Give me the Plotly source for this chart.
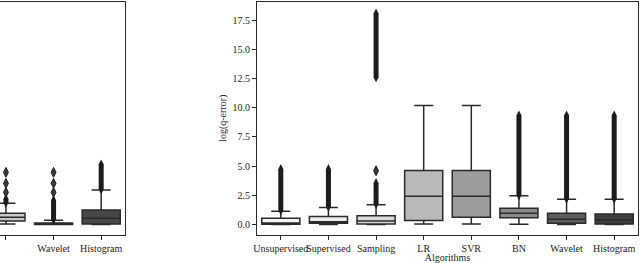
import plotly.graph_objects as go

# ---------------- data ----------------
categories = ["Unsupervised", "Supervised", "Sampling", "LR", "SVR", "BN", "Wavelet", "Histogram"]

# right panel box statistics
r_lower = [0.00, 0.00, 0.00, 0.04, 0.04, 0.02, 0.00, 0.00]
r_q1 = [0.02, 0.10, 0.03, 0.33, 0.61, 0.56, 0.10, 0.04]
r_median = [0.12, 0.22, 0.30, 2.41, 2.41, 0.96, 0.44, 0.38]
r_q3 = [0.53, 0.67, 0.75, 4.63, 4.63, 1.38, 0.96, 0.90]
r_upper = [1.13, 1.44, 1.69, 10.19, 10.19, 2.46, 2.15, 2.15]
# dense outlier bands (low, high) per category
r_out_bands = [
    [(1.20, 4.75)],
    [(1.50, 4.75)],
    [(1.75, 3.55), (12.60, 18.10)],
    [],
    [],
    [(2.50, 9.35)],
    [(2.20, 9.35)],
    [(2.20, 9.35)],
]
r_out_points = [[], [], [4.60], [], [], [], [], []]
r_colors = ["#f4f4f4", "#ececec", "#dadada", "#b9b9b9", "#9c9c9c", "#8a8a8a", "#5c5c5c", "#3f3f3f"]

# left panel (only its last three categories are visible)
left_categories = ["BN", "Wavelet", "Histogram"]
left_index = [5, 6, 7]
l_lower = [0.04, 0.00, 0.00]
l_q1 = [0.30, 0.00, 0.04]
l_median = [0.62, 0.04, 0.53]
l_q3 = [0.96, 0.12, 1.24]
l_upper = [1.81, 0.36, 2.95]
l_out_bands = [[(1.85, 2.20)], [(0.40, 2.10)], [(3.00, 5.15)]]
l_out_points = [[2.75, 3.52, 4.46], [2.75, 3.52, 4.46], []]
l_colors = ["#c9c9c9", "#4a4a4a", "#474747"]

y_ticks = [0.0, 2.5, 5.0, 7.5, 10.0, 12.5, 15.0, 17.5]

# ---------------- figure ----------------
W, H = 640, 263
fig = go.Figure()
edge = "#2a2a2a"
flier = "#1c1c1c"
font_family = "Liberation Serif"


def add_panel(idx, q1, med, q3, lo, hi, bands, pts, colors, xa, ya):
    for k, pos in enumerate(idx):
        fig.add_trace(go.Box(
            x=[pos], q1=[q1[k]], median=[med[k]], q3=[q3[k]],
            lowerfence=[lo[k]], upperfence=[hi[k]],
            width=0.8, whiskerwidth=0.5, boxpoints=False,
            fillcolor=colors[k], line=dict(color=edge, width=1.5),
            xaxis=xa, yaxis=ya, showlegend=False, hoverinfo="skip"))
        for (a, b) in bands[k]:
            fig.add_trace(go.Scatter(
                x=[pos, pos], y=[a, b], mode="lines+markers",
                line=dict(color=flier, width=5),
                marker=dict(symbol="diamond-tall", size=7, color=flier),
                xaxis=xa, yaxis=ya, showlegend=False, hoverinfo="skip"))
        if pts[k]:
            fig.add_trace(go.Scatter(
                x=[pos] * len(pts[k]), y=pts[k], mode="markers",
                marker=dict(symbol="diamond-tall", size=7, color="#3a3a3a",
                            line=dict(color=flier, width=1)),
                xaxis=xa, yaxis=ya, showlegend=False, hoverinfo="skip"))


add_panel(left_index, l_q1, l_median, l_q3, l_lower, l_upper,
          l_out_bands, l_out_points, l_colors, "x", "y")
add_panel(list(range(len(categories))), r_q1, r_median, r_q3, r_lower, r_upper,
          r_out_bands, r_out_points, r_colors, "x2", "y2")

ydom = [1 - 235 / H, 1 - 1.5 / H]
yrange = [-0.91, 19.11]
px_per_unit = 381 / 8.0
left_w = 125

tickfont = dict(family=font_family, size=10, color="#222222")

fig.update_layout(
    width=W, height=H,
    margin=dict(l=0, r=0, t=0, b=0, autoexpand=False),
    paper_bgcolor="white", plot_bgcolor="white",
    font=dict(family=font_family, size=10, color="#222222"),
    xaxis=dict(domain=[0, left_w / W], range=[7.5 - left_w / px_per_unit, 7.5],
               tickvals=left_index, ticktext=left_categories, tickangle=0,
               showline=True, mirror=True, linecolor=edge, linewidth=1,
               ticks="outside", ticklen=4, tickcolor=edge, tickfont=tickfont,
               showgrid=False, zeroline=False, automargin=False),
    yaxis=dict(domain=ydom, range=yrange, side="right",
               showline=True, linecolor=edge, linewidth=1,
               showticklabels=False, ticks="", showgrid=False, zeroline=False,
               automargin=False),
    xaxis2=dict(domain=[257 / W, 638 / W], range=[-0.5, 7.5],
                tickvals=list(range(len(categories))), ticktext=categories, tickangle=0,
                showline=True, mirror=True, linecolor=edge, linewidth=1,
                ticks="outside", ticklen=4, tickcolor=edge, tickfont=tickfont,
                showgrid=False, zeroline=False, anchor="y2", automargin=False,
                title=dict(text="Algorithms", font=dict(family=font_family, size=10), standoff=2)),
    yaxis2=dict(domain=ydom, range=yrange, anchor="x2",
                tickvals=y_ticks, ticktext=[f"{v:.1f}" for v in y_ticks],
                showline=True, mirror=True, linecolor=edge, linewidth=1,
                ticks="outside", ticklen=4, tickcolor=edge, tickfont=tickfont,
                showgrid=False, zeroline=False, automargin=False,
                title=dict(text="log(q-error)", font=dict(family=font_family, size=10), standoff=4)),
)

fig.write_html("out.html",
               config={"displayModeBar": False, "staticPlot": True},
               post_script="document.body.style.margin='0';document.body.style.overflow='hidden';")
